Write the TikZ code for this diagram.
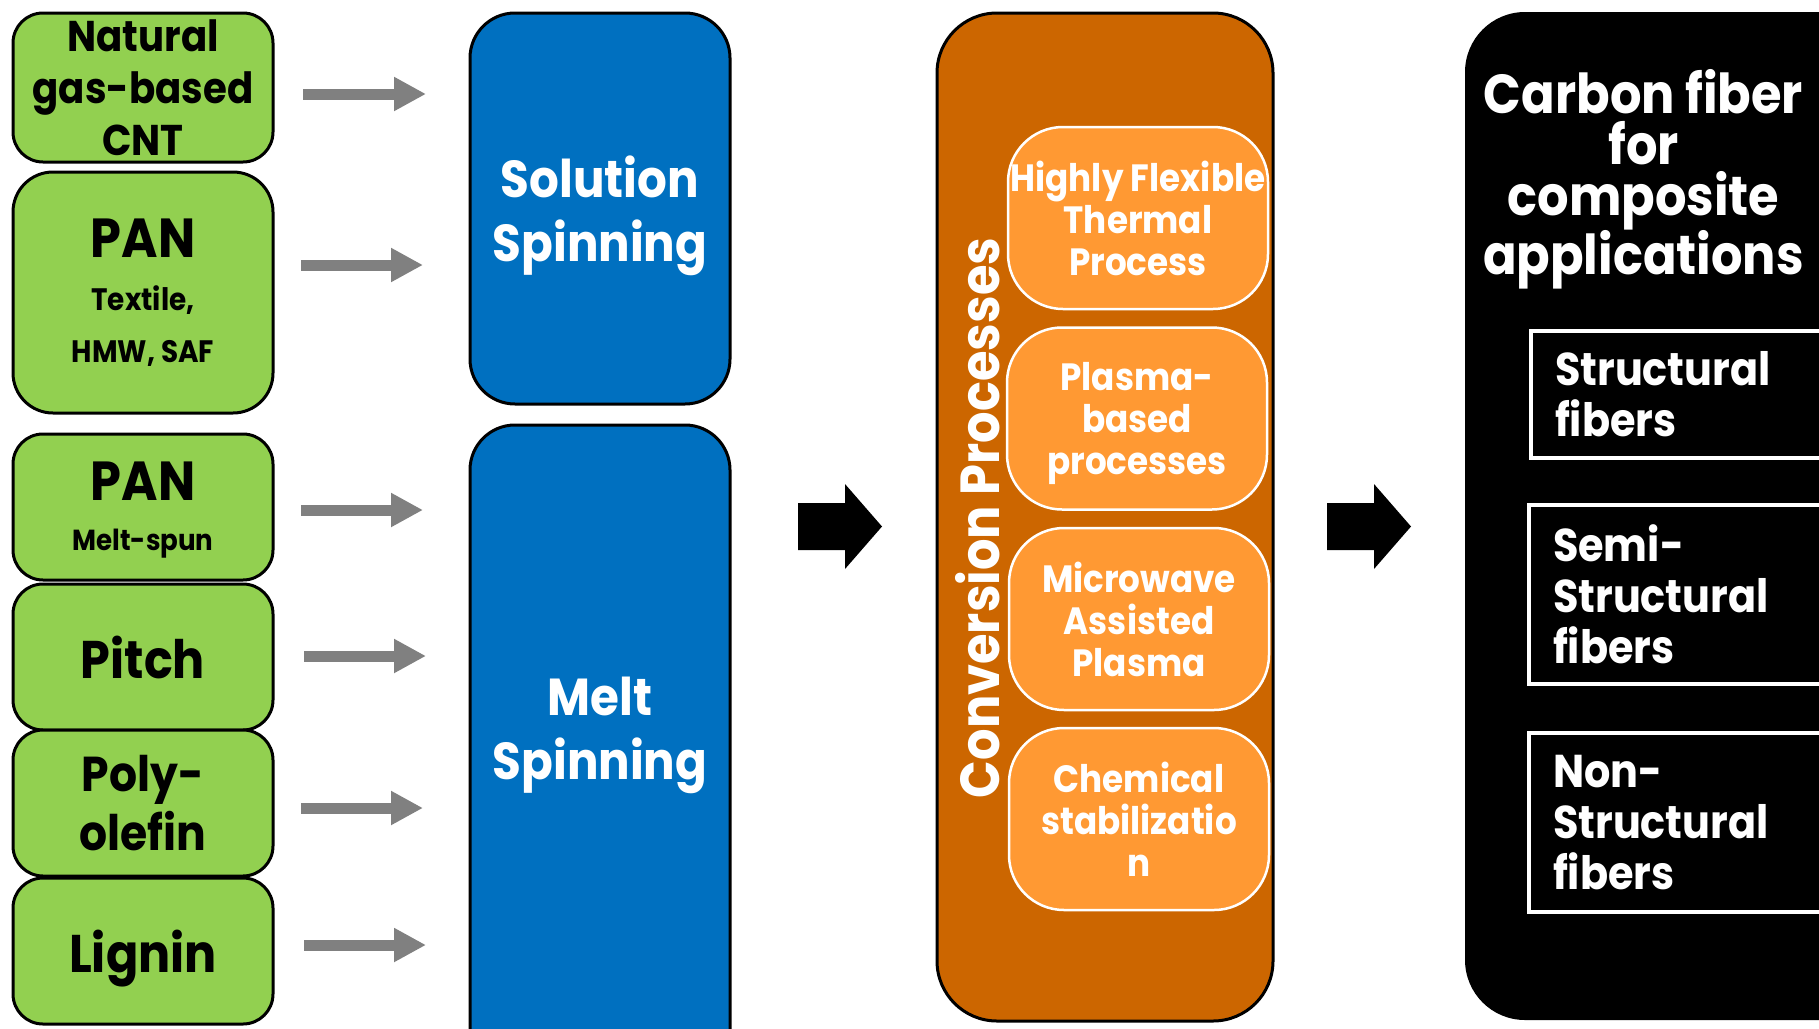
\documentclass[tikz,border=0pt]{standalone}
\usepackage{fontspec}
\setmainfont{Poppins}[FakeStretch=0.9]
\usetikzlibrary{arrows.meta}
\definecolor{cgreen}{HTML}{92D050}
\definecolor{cblue}{HTML}{0070C0}
\definecolor{cdorange}{HTML}{CC6600}
\definecolor{clorange}{HTML}{FF9933}
\definecolor{cgray}{HTML}{808080}
\begin{document}
\begin{tikzpicture}[x=1pt,y=-1pt,
  gbox/.style={draw=black,line width=3pt,fill=cgreen,rounded corners=30pt,inner sep=0pt,align=center,text depth=0pt,text=black},
  gfont/.style={font=\fontsize{#1}{#1}\selectfont\bfseries,text=black,inner sep=0pt},
  bbox/.style={draw=black,line width=3pt,fill=cblue,rounded corners=45pt,inner sep=0pt,align=center,text depth=0pt,text=white,font=\fontsize{52}{64}\selectfont\bfseries},
  obox/.style={draw=black,line width=3pt,fill=cdorange,rounded corners=60pt,inner sep=0pt},
  ibox/.style={draw=white,line width=2.5pt,fill=clorange,rounded corners=55pt,inner sep=0pt,minimum width=260pt,minimum height=182pt,align=center,text depth=0pt,text=white,font=\fontsize{38}{42}\selectfont\bfseries},
  kbox/.style={fill=black,rounded corners=60pt,inner sep=0pt},
  wbox/.style={draw=white,line width=4pt,fill=black,inner xsep=24pt,inner ysep=0pt,minimum width=309pt,text width=261pt,align=left,text=white,font=\fontsize{46}{51}\selectfont\bfseries},
  garrow/.style={draw=cgray,line width=11pt,-{Triangle[length=32pt,width=32pt]}},
  blockarrow/.pic={\fill[black] (0,-23.5) -- (47,-23.5) -- (47,-42.5) -- (84,0) -- (47,42.5) -- (47,23.5) -- (0,23.5) -- cycle;}
]
\useasboundingbox (0,0) rectangle (1819,1028);
\clip (0,0) rectangle (1819,1028);
\fill[white] (0,0) rectangle (1819,1028);

% ---------- green source boxes ----------
\node[gbox,minimum width=260pt,minimum height=149pt,font=\fontsize{43}{52}\selectfont\bfseries] (ng) at (143,87.5) {Natural\\gas-based\\CNT};
\node[gbox,minimum width=260pt,minimum height=241pt,rounded corners=40pt] (pan1) at (143,292.5) {};
\node[gfont=55,anchor=base] (pan1a) at (143,257) {PAN};
\node[gfont=31,anchor=base] (pan1b) at (143,310) {Textile,};
\node[gfont=31,anchor=base] (pan1c) at (143,362) {HMW, SAF};
\node[gbox,minimum width=260pt,minimum height=146pt] (pan2) at (143,507) {};
\node[gfont=55,anchor=base] (pan2a) at (143,500) {PAN};
\node[gfont=29,anchor=base] (pan2b) at (143,550) {Melt-spun};
\node[gbox,minimum width=260pt,minimum height=146pt,font=\fontsize{53}{64}\selectfont\bfseries] (pitch) at (143,657) {Pitch};
\node[gbox,minimum width=260pt,minimum height=146pt,font=\fontsize{49}{59}\selectfont\bfseries] (poly) at (143,803) {Poly-\\olefin};
\node[gbox,minimum width=260pt,minimum height=146pt,font=\fontsize{53}{64}\selectfont\bfseries] (lig) at (143,951) {Lignin};

% ---------- gray arrows ----------
\coordinate (s1) at (303,94);  \coordinate (e1) at (426,94);
\coordinate (s2) at (301,265); \coordinate (e2) at (423,265);
\coordinate (s3) at (301,510); \coordinate (e3) at (423,510);
\coordinate (s4) at (304,656); \coordinate (e4) at (426,656);
\coordinate (s5) at (301,808); \coordinate (e5) at (423,808);
\coordinate (s6) at (304,945); \coordinate (e6) at (426,945);
\draw[garrow] (s1) -- (e1);
\draw[garrow] (s2) -- (e2);
\draw[garrow] (s3) -- (e3);
\draw[garrow] (s4) -- (e4);
\draw[garrow] (s5) -- (e5);
\draw[garrow] (s6) -- (e6);

% ---------- blue spinning boxes ----------
\node[bbox,minimum width=260pt,minimum height=391pt] (sol) at (600,208.5) {Solution\\Spinning};
\node[bbox,minimum width=260pt,minimum height=700pt] (melt) at (600,775) {};
\node[bbox,draw=none,fill=none] (meltt) at (600,728) {Melt\\Spinning};

% ---------- block arrows ----------
\pic (ba1) at (798,526.5) {blockarrow};
\pic (ba2) at (1327,526.5) {blockarrow};

% ---------- conversion processes ----------
\node[obox,minimum width=336pt,minimum height=1008pt] (conv) at (1105,517) {};
\node[rotate=90,text=white,inner sep=0pt,text depth=0pt,font=\fontsize{55}{55}\selectfont\bfseries] (convt) at (977,518) {Conversion Processes};
\node[ibox] (hf) at (1138,218) {Highly Flexible\\Thermal\\Process};
\node[ibox] (pb) at (1137,418.5) {Plasma-\\based\\processes};
\node[ibox] (mw) at (1139,619) {Microwave\\Assisted\\Plasma};
\node[ibox] (cs) at (1139,819) {Chemical\\stabilizatio\\n};

% ---------- carbon fiber ----------
\node[kbox,minimum width=435pt,minimum height=1008pt] (cf) at (1682.5,516) {};
\node[text=white,inner sep=0pt,align=center,text depth=0pt,font=\fontsize{55}{51}\selectfont\bfseries] (cft) at (1643.5,172) {Carbon fiber\\for\\composite\\applications};
\node[wbox,minimum height=127pt] (sf) at (1685.5,394.5) {Structural\\fibers};
\node[wbox,minimum height=179pt] (ssf) at (1683.5,594.5) {Semi-\\Structural\\fibers};
\node[wbox,minimum height=179pt] (nsf) at (1683.5,822.5) {Non-\\Structural\\fibers};
\end{tikzpicture}
\end{document}
